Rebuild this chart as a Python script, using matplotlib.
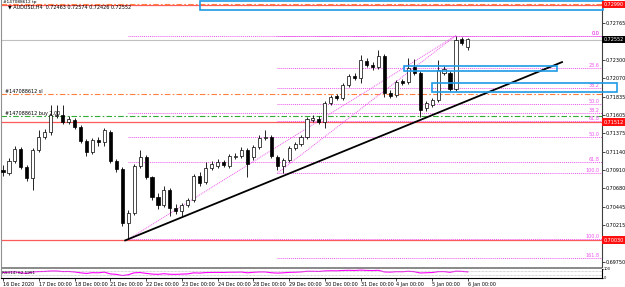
import numpy as np
import matplotlib.pyplot as plt
from matplotlib.patches import Rectangle

# AUDUSD H4 candles, 16 Dec 2020 00:00 .. 6 Jan 2021 00:00
opens = [0.70907, 0.70869, 0.71020, 0.71172, 0.70945, 0.70806, 0.71159, 0.71323, 0.71386, 0.71587,
         0.71600, 0.71512, 0.71537, 0.71449, 0.71272, 0.71134, 0.71285, 0.71260, 0.71386, 0.71020,
         0.70920, 0.70239, 0.70365, 0.70957, 0.71071, 0.70819, 0.70567, 0.70466, 0.70655, 0.70428,
         0.70390, 0.70466, 0.70529, 0.70831, 0.70756, 0.70932, 0.70957, 0.71008, 0.70957, 0.71071,
         0.71083, 0.71159, 0.71071, 0.71197, 0.71310, 0.71323, 0.71071, 0.70957, 0.71033, 0.71184,
         0.71235, 0.71323, 0.71537, 0.71550, 0.71512, 0.71751, 0.71839, 0.71814, 0.71978, 0.72091,
         0.72066, 0.72280, 0.72230, 0.72205, 0.72343, 0.71877, 0.71852, 0.72028, 0.72016, 0.72205,
         0.72129, 0.71688, 0.71726, 0.71789, 0.72129, 0.72129, 0.71928, 0.72558, 0.72463]
highs = [0.70970, 0.71058, 0.71210, 0.71197, 0.70970, 0.71184, 0.71411, 0.71424, 0.71726, 0.71726,
         0.71726, 0.71587, 0.71562, 0.71474, 0.71298, 0.71310, 0.71323, 0.71436, 0.71411, 0.71046,
         0.70945, 0.70403, 0.70983, 0.71159, 0.71096, 0.70831, 0.70617, 0.70705, 0.70680, 0.70479,
         0.70491, 0.70554, 0.70857, 0.70882, 0.71008, 0.71020, 0.71046, 0.71033, 0.71109, 0.71121,
         0.71197, 0.71184, 0.71222, 0.71348, 0.71411, 0.71348, 0.71096, 0.71058, 0.71210, 0.71260,
         0.71348, 0.71575, 0.71600, 0.71587, 0.71776, 0.71852, 0.71865, 0.72003, 0.72117, 0.72129,
         0.72356, 0.72318, 0.72268, 0.72419, 0.72369, 0.71915, 0.72041, 0.72054, 0.72318, 0.72306,
         0.72154, 0.71776, 0.71814, 0.72293, 0.72217, 0.72154, 0.72595, 0.72583, 0.72574]
lows = [0.70831, 0.70844, 0.70995, 0.70920, 0.70768, 0.70655, 0.71134, 0.71298, 0.71348, 0.71562,
        0.71487, 0.71487, 0.71424, 0.71247, 0.71083, 0.71109, 0.71210, 0.71210, 0.70995, 0.70882,
        0.70201, 0.70038, 0.70340, 0.70932, 0.70794, 0.70529, 0.70416, 0.70441, 0.70327, 0.70353,
        0.70327, 0.70441, 0.70504, 0.70705, 0.70731, 0.70907, 0.70932, 0.70945, 0.70932, 0.71046,
        0.71058, 0.70819, 0.71033, 0.71172, 0.71285, 0.71058, 0.70907, 0.70869, 0.71008, 0.71159,
        0.71210, 0.71298, 0.71512, 0.71487, 0.71436, 0.71726, 0.71789, 0.71789, 0.71953, 0.72041,
        0.72003, 0.72205, 0.72167, 0.72180, 0.71827, 0.71814, 0.71827, 0.71978, 0.71991, 0.72104,
        0.71575, 0.71650, 0.71701, 0.71764, 0.72104, 0.71902, 0.71902, 0.72482, 0.72426]
closes = [0.70882, 0.71020, 0.71172, 0.70945, 0.70806, 0.71159, 0.71323, 0.71386, 0.71600, 0.71600,
          0.71512, 0.71550, 0.71449, 0.71272, 0.71134, 0.71285, 0.71260, 0.71411, 0.71020, 0.70920,
          0.70239, 0.70365, 0.70957, 0.71071, 0.70819, 0.70567, 0.70466, 0.70655, 0.70428, 0.70390,
          0.70466, 0.70529, 0.70831, 0.70743, 0.70932, 0.70983, 0.71008, 0.70970, 0.71083, 0.71083,
          0.71159, 0.70983, 0.71197, 0.71310, 0.71323, 0.71083, 0.70957, 0.71033, 0.71184, 0.71235,
          0.71323, 0.71550, 0.71562, 0.71512, 0.71751, 0.71827, 0.71814, 0.71978, 0.72091, 0.72066,
          0.72293, 0.72230, 0.72205, 0.72343, 0.71877, 0.71839, 0.72016, 0.72003, 0.72192, 0.72129,
          0.71663, 0.71751, 0.71789, 0.72167, 0.72180, 0.71928, 0.72545, 0.72507, 0.72552]

rsi = [55, 60, 64, 52, 45, 62, 66, 67, 72, 72, 66, 67, 62, 52, 45, 54, 52, 60, 40, 35,
       22, 30, 52, 55, 46, 38, 35, 42, 36, 35, 38, 40, 52, 49, 55, 56, 57, 56, 59, 59,
       61, 52, 58, 62, 62, 53, 49, 52, 57, 59, 62, 69, 69, 67, 73, 75, 74, 78, 80, 78,
       82, 79, 77, 80, 62, 60, 65, 64, 69, 65, 50, 53, 55, 65, 66, 58, 70, 68, 62.5951]

date_labels = ['16 Dec 2020', '17 Dec 00:00', '18 Dec 00:00', '21 Dec 00:00', '22 Dec 00:00',
               '23 Dec 00:00', '24 Dec 00:00', '28 Dec 00:00', '29 Dec 00:00', '30 Dec 00:00',
               '31 Dec 00:00', '4 Jan 00:00', '5 Jan 00:00', '6 Jan 00:00']
price_ticks = [0.72765, 0.72300, 0.72070, 0.71835, 0.71605, 0.71375, 0.71140, 0.70910,
               0.70680, 0.70445, 0.70215, 0.69750]

bid = 0.72552
tp_level = 0.72995
sl_level = 0.71865
entry_level = 0.71587
red_levels = [0.72990, 0.71512, 0.70030]
fib_top = 0.72602
fib_a_low, fib_a_start = 0.70038, 21
fib_b_low, fib_b_start = 0.70869, 46
fib_a_levels = [0.0, 38.2, 50.0, 61.8, 100.0]
fib_b_levels = [0.0, 23.6, 38.2, 50.0, 61.8, 100.0, 161.8]
trend = ([20.5, 93.8], [0.70025, 0.72268])
boxes = [(33.0, 100.6, 0.72917, 0.73036), (67.3, 93.0, 0.72161, 0.72224), (72.0, 103.0, 0.71890, 0.72003)]

W, H = 625, 287
fig = plt.figure(figsize=(W / 100, H / 100), dpi=100)
fig.patch.set_facecolor('white')


def px_axes(x0, y0, x1, y1):
    return fig.add_axes([x0 / W, 1 - y1 / H, (x1 - x0) / W, (y1 - y0) / H])


ax = px_axes(1, 0, 601.5, 266.5)
rax = px_axes(1, 268.5, 601.5, 277.5)
xlim = (-0.34, 100.42)
ax.set_xlim(*xlim)
ax.set_ylim(0.69697, 0.73049)

pink = '#ee55ee'
dashdot = (0, (5, 2, 1.5, 2))
fs = 3.5

# candles
x = np.arange(len(opens))
o, h, l, c = map(np.array, (opens, highs, lows, closes))
ax.vlines(x, l, h, color='black', lw=0.6, zorder=3)
ax.bar(x, np.abs(c - o) + 0.00001, 0.52, bottom=np.minimum(o, c),
       color=np.where(c >= o, 'white', 'black'), edgecolor='black', lw=0.5, zorder=4)

# horizontal levels
ax.axhline(bid, color='#c0c0c0', lw=0.8, zorder=1)
for lv in red_levels:
    ax.axhline(lv, color='#ff5a5a', lw=0.9, zorder=2)
ax.axhline(tp_level, color='#ff8040', lw=0.8, ls=dashdot, zorder=2)
ax.axhline(sl_level, color='#ff8040', lw=0.8, ls=dashdot, zorder=2)
ax.axhline(entry_level, color='#33aa33', lw=0.8, ls=dashdot, zorder=2)

# fibonacci levels
for low, start, levels in [(fib_a_low, fib_a_start, fib_a_levels), (fib_b_low, fib_b_start, fib_b_levels)]:
    for lv in levels:
        p = fib_top - lv / 100 * (fib_top - low)
        ax.plot([start, xlim[1]], [p, p], color=pink, lw=0.7, ls=(0, (1, 1)), zorder=2)
        ax.text(0.997, p, f'{lv:.1f}', transform=ax.get_yaxis_transform(), ha='right', va='bottom',
                fontsize=fs, color=pink)
    ax.plot([start, 76], [low, fib_top], color=pink, lw=0.7, ls=(0, (1, 1)), zorder=2)

ax.plot(*trend, color='black', lw=1.3, zorder=5)

for x0, x1, y0, y1 in boxes:
    ax.add_patch(Rectangle((x0, y0), x1 - x0, y1 - y0, fill=False, ec='#1e9be6', lw=1.2,
                           zorder=6, clip_on=False))

# texts on the left
tr = ax.get_yaxis_transform()
ax.text(0.003, 0.9998, '#147088612 tp', transform=ax.transAxes, fontsize=3.1, va='top')
ax.text(0.012, 0.72962, '\u25bc AUDUSD,H4  0.72463 0.72574 0.72426 0.72552', transform=tr,
        fontsize=fs, va='center')
ax.text(0.006, sl_level, '#147088612 sl', transform=tr, fontsize=fs, va='bottom')
ax.text(0.006, entry_level, '#147088612 buy 2.00', transform=tr, fontsize=fs, va='bottom')

# price axis
ax.yaxis.tick_right()
ax.set_yticks(price_ticks)
ax.set_yticklabels([f'{v:.5f}' for v in price_ticks])
ax.tick_params(axis='y', labelsize=fs, length=2, pad=1, width=0.5)
ax.set_xticks([])
for s in ['top', 'bottom']:
    ax.spines[s].set_visible(False)
ax.spines['left'].set_color('#909090')
ax.spines['right'].set_color('#404040')
ax.spines['left'].set_linewidth(0.8)
ax.spines['right'].set_linewidth(0.8)

for lv in red_levels:
    ax.text(1.003, lv, f'{lv:.5f}', transform=tr, fontsize=fs, color='white', va='center', ha='left',
            bbox=dict(boxstyle='square,pad=0.25', fc='#ff1010', ec='none'), zorder=10, clip_on=False)
ax.text(1.003, bid, f'{bid:.5f}', transform=tr, fontsize=fs, color='white', va='center', ha='left',
        bbox=dict(boxstyle='square,pad=0.25', fc='black', ec='none'), zorder=10, clip_on=False)

fig.add_artist(Rectangle((1 / W, 1 - 268.5 / H), 600.5 / W, 2 / H, transform=fig.transFigure,
                         color='#8c8c8c', lw=0))

# RSI sub-window
rax.set_xlim(*xlim)
rax.set_ylim(0, 100)
rax.plot(x, rsi, color='#ff00ff', lw=0.8)
for lv in (30, 70):
    rax.axhline(lv, color='#b0b0b0', lw=0.5, ls=(0, (1, 1)))
rax.text(0.002, 0.5, 'RSI(14) 62.5951', transform=rax.transAxes, fontsize=3, va='center')
rax.yaxis.tick_right()
rax.set_yticks([100, 0])
rax.set_yticklabels(['100', '0'])
rax.tick_params(axis='y', labelsize=2.6, length=1, pad=0.8)
rax.set_xticks(x[::6])
rax.set_xticklabels(date_labels, ha='left')
rax.tick_params(axis='x', labelsize=fs, length=2, pad=1.2, width=0.5)
rax.spines['top'].set_visible(False)
rax.spines['left'].set_color('#909090')

fig.savefig('out.png', dpi=100)
